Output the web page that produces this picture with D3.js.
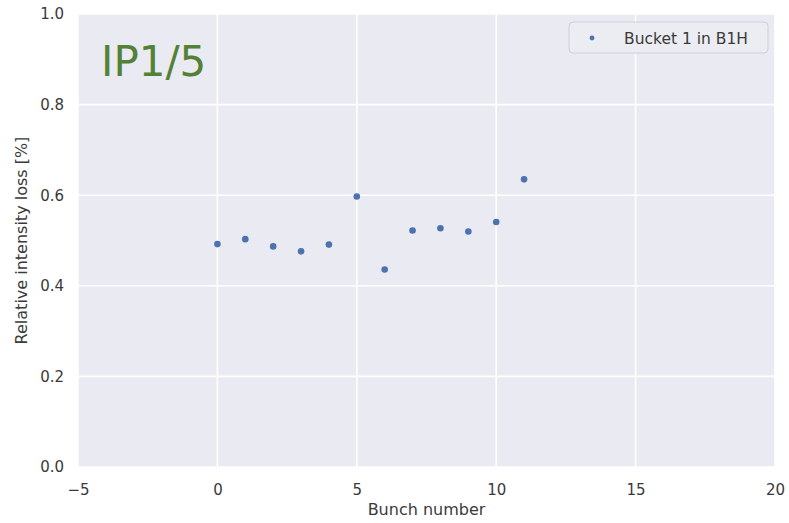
<!DOCTYPE html>
<html>
<head>
<meta charset="utf-8">
<script src="https://cdn.jsdelivr.net/npm/d3@7"></script>
<style>
  html, body { margin: 0; padding: 0; background: #ffffff; }
  svg { display: block; }
  text { font-family: "DejaVu Sans", sans-serif; }
</style>
</head>
<body>
<svg id="chart" width="789" height="523"></svg>
<script>
// Loss per bunch, bucket 1 of beam 1 horizontal
const bunchNumbers = [0, 1, 2, 3, 4, 5, 6, 7, 8, 9, 10, 11];
const intensityLoss = [0.492, 0.503, 0.487, 0.476, 0.491, 0.597, 0.436, 0.522, 0.527, 0.520, 0.541, 0.635];
const xTicks = [-5, 0, 5, 10, 15, 20];
const yTicks = [0.0, 0.2, 0.4, 0.6, 0.8, 1.0];
const seriesName = "Bucket 1 in B1H";
const panelTitle = "IP1/5";

const svg = d3.select("#chart");
const margin = { left: 78, right: 14, top: 14, bottom: 56 };
const W = 789, H = 523;

const x = d3.scaleLinear().domain([-5, 20]).range([margin.left, W - margin.right]);
const y = d3.scaleLinear().domain([0, 1]).range([H - margin.bottom, margin.top]);

// plot background
svg.append("rect")
  .attr("x", x(-5)).attr("y", y(1))
  .attr("width", x(20) - x(-5)).attr("height", y(0) - y(1))
  .attr("fill", "#eaeaf2");

// white grid
const grid = svg.append("g");
grid.selectAll("line.v").data(xTicks).join("line")
  .attr("x1", d => x(d)).attr("x2", d => x(d))
  .attr("y1", y(0)).attr("y2", y(1))
  .attr("stroke", "#ffffff").attr("stroke-width", 1.6);
grid.selectAll("line.h").data(yTicks).join("line")
  .attr("x1", x(-5)).attr("x2", x(20))
  .attr("y1", d => y(d)).attr("y2", d => y(d))
  .attr("stroke", "#ffffff").attr("stroke-width", 1.6);

// axes (labels only, seaborn darkgrid style)
const xAxis = d3.axisBottom(x).tickValues(xTicks).tickSize(0).tickPadding(17)
  .tickFormat(d => d < 0 ? "\u2212" + Math.abs(d) : d);
const gx = svg.append("g").attr("transform", `translate(0,${y(0)})`).call(xAxis);
gx.select(".domain").remove();
gx.selectAll("text").attr("font-size", 15).attr("fill", "#3a3a3a")
  .attr("font-family", "'DejaVu Sans', sans-serif");

const yAxis = d3.axisLeft(y).tickValues(yTicks).tickSize(0).tickPadding(14)
  .tickFormat(d3.format(".1f"));
const gy = svg.append("g").attr("transform", `translate(${x(-5)},0)`).call(yAxis);
gy.select(".domain").remove();
gy.selectAll("text").attr("font-size", 15).attr("fill", "#3a3a3a")
  .attr("font-family", "'DejaVu Sans', sans-serif");

// axis titles
svg.append("text")
  .attr("x", (x(-5) + x(20)) / 2).attr("y", 515)
  .attr("text-anchor", "middle").attr("font-size", 16).attr("fill", "#3a3a3a")
  .text("Bunch number");
svg.append("text")
  .attr("transform", `translate(27,${(y(0) + y(1)) / 2}) rotate(-90)`)
  .attr("text-anchor", "middle").attr("font-size", 16).attr("fill", "#3a3a3a")
  .text("Relative intensity loss [%]");

// data points
svg.append("g").selectAll("circle")
  .data(bunchNumbers.map((b, i) => ({ b, v: intensityLoss[i] })))
  .join("circle")
  .attr("cx", d => x(d.b)).attr("cy", d => y(d.v))
  .attr("r", 3.3).attr("fill", "#4c72b0");

// legend
const lg = svg.append("g").attr("transform", "translate(569,22)");
lg.append("rect").attr("width", 199).attr("height", 31).attr("rx", 4)
  .attr("fill", "#ececf3").attr("stroke", "#cfcfd6").attr("stroke-width", 1);
lg.append("circle").attr("cx", 23).attr("cy", 16).attr("r", 2.4).attr("fill", "#4c72b0");
lg.append("text").attr("x", 55).attr("y", 21.5)
  .attr("font-size", 15.5).attr("fill", "#3a3a3a").text(seriesName);

// panel annotation
svg.append("text")
  .attr("x", 101).attr("y", 76)
  .attr("font-family", "Lato, sans-serif").attr("font-size", 42)
  .attr("fill", "#538135").text(panelTitle);
</script>
</body>
</html>
